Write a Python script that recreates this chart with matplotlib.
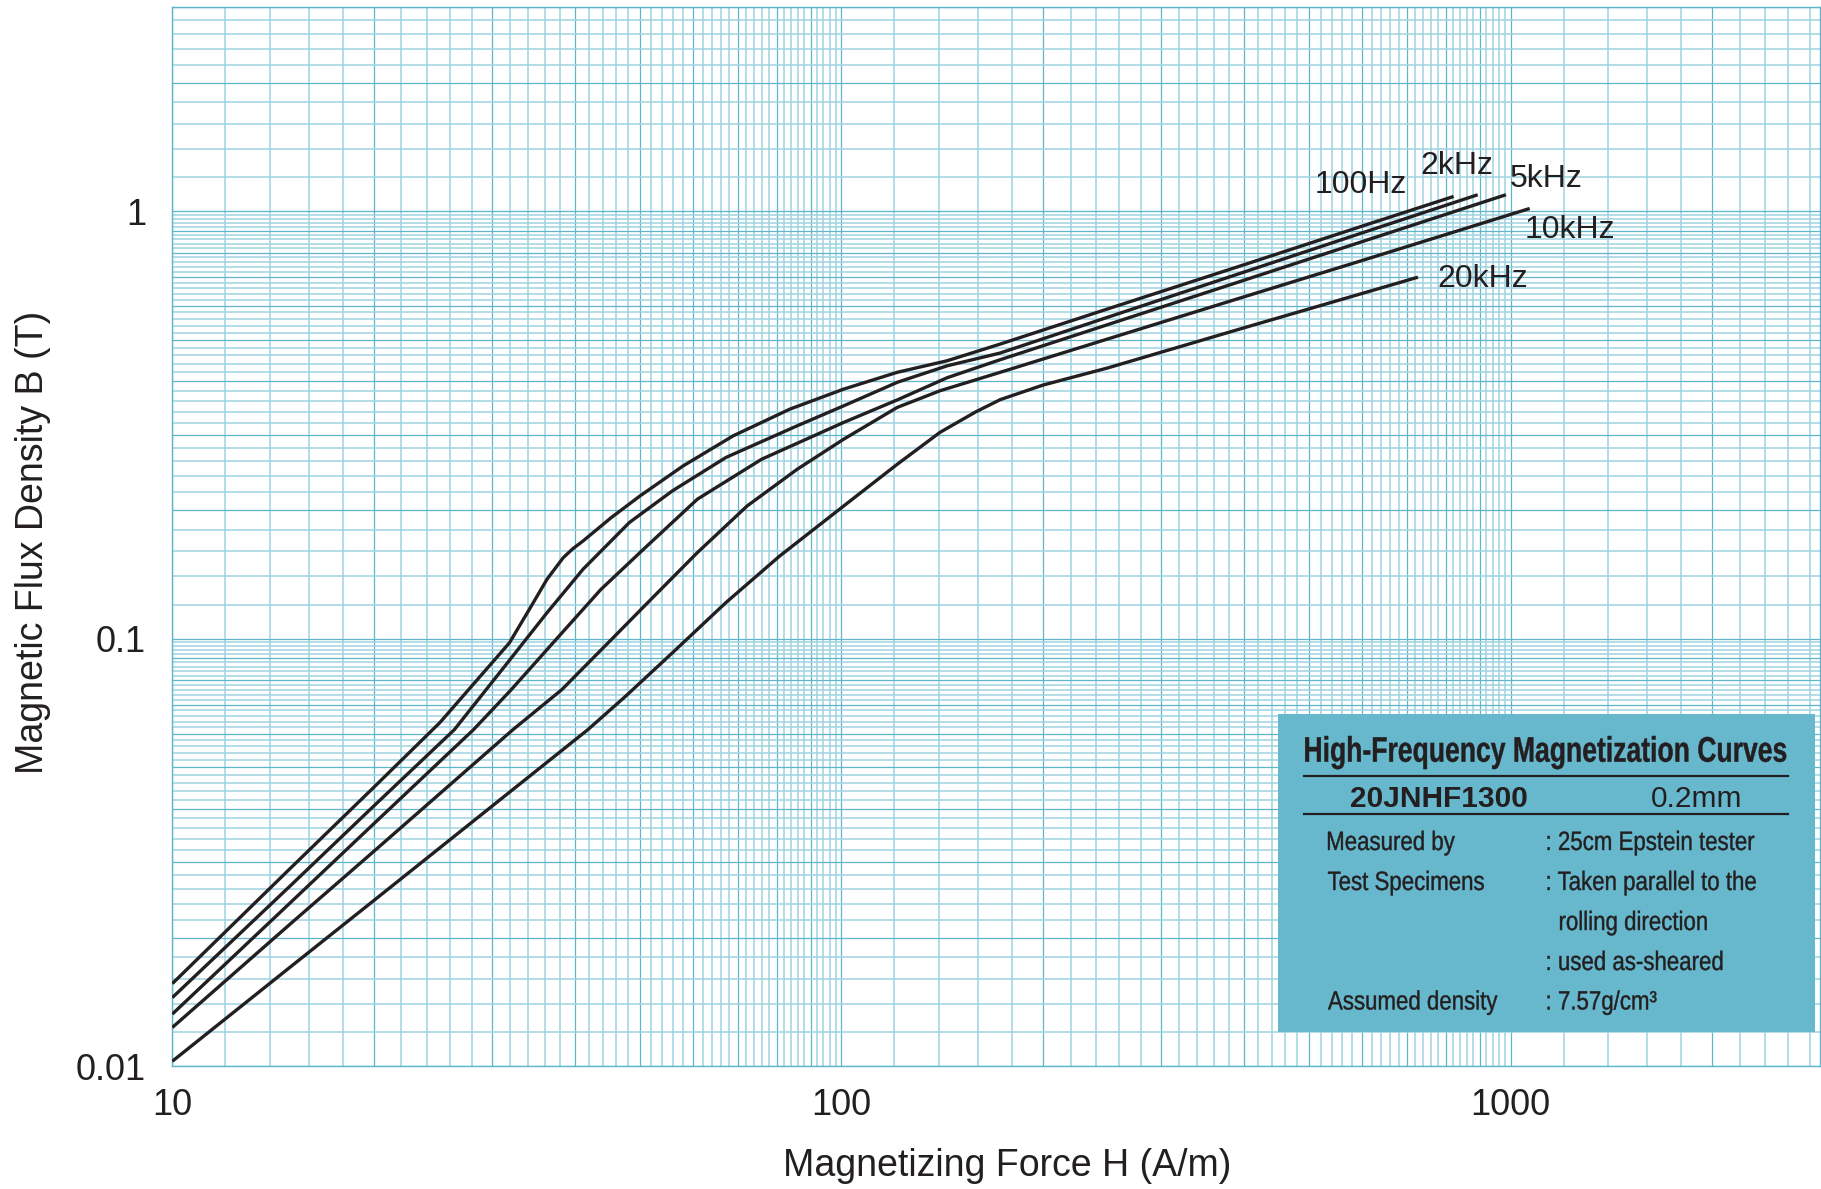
import numpy as np
import matplotlib
matplotlib.use('Agg')
from matplotlib import pyplot as plt
from matplotlib.textpath import TextPath
from matplotlib.patches import PathPatch
from matplotlib.transforms import Affine2D
from matplotlib.font_manager import FontProperties

plt.rcParams['font.family'] = ['Liberation Sans', 'DejaVu Sans']

W, H = 1821, 1189
ink = '#231f20'
grid_dark = '#5fb6cb'
grid_light = '#9fd3e1'
box_color = '#67b8cd'

# magnetizing force H (A/m) and flux density B (T)
h_100hz = [10, 15, 20, 25.1, 31.9, 34.4, 36.3, 38.4, 39.7, 41.1, 45.3, 50, 58, 68.9, 83.8,
           100.8, 121.2, 143.9, 172.7, 250, 400, 600, 822]
b_100hz = [0.0156, 0.029, 0.0449, 0.0636, 0.0978, 0.1193, 0.1377, 0.1548, 0.1625, 0.1693, 0.1921,
           0.2158, 0.2537, 0.2983, 0.3446, 0.3837, 0.42, 0.447, 0.489, 0.591, 0.75, 0.923, 1.083]

h_2k = [10, 15, 20, 26.4, 31.7, 36.3, 41.1, 48.2, 55.9, 67.2, 85.9, 100.8, 121.2, 143.9,
        172.7, 250, 400, 600, 893]
b_2k = [0.01447, 0.0264, 0.0406, 0.0613, 0.0879, 0.115, 0.1454, 0.187, 0.2218, 0.2655,
        0.3149, 0.3507, 0.398, 0.435, 0.466, 0.565, 0.721, 0.89, 1.093]

h_5k = [10, 15, 20, 28.2, 32.1, 38.6, 43.7, 50.6, 60.9, 76.0, 100.8, 121.2, 143.9, 172.7,
        250, 400, 600, 984]
b_5k = [0.01324, 0.0241, 0.0369, 0.0613, 0.076, 0.105, 0.1304, 0.1619, 0.212, 0.263,
        0.3207, 0.362, 0.408, 0.4495, 0.543, 0.69, 0.849, 1.093]

h_10k = [10, 15, 20, 32.3, 38.2, 44.8, 52.5, 60.9, 72.3, 85.9, 100.8, 121.2, 140.4, 172.7,
         250, 400, 600, 1068]
b_10k = [0.01232, 0.0215, 0.0318, 0.0613, 0.076, 0.0978, 0.1258, 0.159, 0.2045, 0.2492,
         0.293, 0.3477, 0.3803, 0.42, 0.5026, 0.631, 0.767, 1.015]

h_20k = [10, 15, 20, 30, 41.8, 47.6, 55.9, 67.2, 80.8, 100.8, 121.2, 140.4, 158.8, 172.7,
         200, 250, 400, 727]
b_20k = [0.01027, 0.01705, 0.0244, 0.0405, 0.0613, 0.0734, 0.0927, 0.1215, 0.156, 0.2045,
         0.256, 0.304, 0.3395, 0.3625, 0.392, 0.43, 0.534, 0.701]

curves = [(h_100hz, b_100hz), (h_2k, b_2k), (h_5k, b_5k), (h_10k, b_10k), (h_20k, b_20k)]
curve_labels = ['100Hz', '2kHz', '5kHz', '10kHz', '20kHz']
label_h = [598, 830, 1130, 1228, 908]
label_b = [1.154, 1.278, 1.19, 0.905, 0.695]

info_names = ['Measured by', 'Test Specimens', '', '', 'Assumed density']
info_values = [': 25cm Epstein tester', ': Taken parallel to the', 'rolling direction',
               ': used as-sheared', ': 7.57g/cm³']


def fx(px):
    return px / W


def fy(py):
    return 1 - py / H


def grid_values(lo, hi):
    vals = []
    dec = 10.0 ** np.floor(np.log10(lo))
    while dec <= hi:
        for k in range(45):
            v = dec * (1 + 0.2 * k)
            if lo <= v <= hi * 1.0001:
                vals.append((v, k % 5 == 0))
        dec *= 10
    return vals


def condensed_text(ax, x, y, s, size, sx, weight='normal', ha='left', width=None):
    # text drawn as a path squeezed horizontally (no condensed font installed)
    tp = TextPath((0, 0), s, size=size,
                  prop=FontProperties(family='Liberation Sans', weight=weight))
    ext = tp.get_extents()
    if width is not None:
        sx = width / ext.width
    x0 = x - ext.x0 * sx
    if ha == 'center':
        x0 = x - (ext.x0 + ext.width / 2) * sx
    path = Affine2D().scale(sx, -1).translate(x0, y).transform_path(tp)
    ax.add_patch(PathPatch(path, fc=ink, ec=ink, lw=0.3))


fig = plt.figure(figsize=(W / 100, H / 100), dpi=100)
left, right, top, bottom = 172.3, 1820, 7.3, 1066.2
ax = fig.add_axes([fx(left), fy(bottom), (right - left) / W, (bottom - top) / H])
ax.set_xscale('log')
ax.set_yscale('log')
ax.set_xlim(10, 2900)
ax.set_ylim(0.01, 3)

for v, strong in grid_values(10, 2900):
    ax.axvline(v, color=grid_dark if strong else grid_light, lw=0.9 if strong else 1.1, zorder=1)
for v, strong in grid_values(0.01, 3):
    ax.axhline(v, color=grid_dark if strong else grid_light, lw=0.9 if strong else 1.1, zorder=1)

for h_vals, b_vals in curves:
    ax.plot(h_vals, b_vals, color=ink, lw=2.4, solid_joinstyle='round',
            solid_capstyle='butt', zorder=3)

for name, lh, lb in zip(curve_labels, label_h, label_b):
    ax.text(lh, lb, name, fontsize=23, color=ink, ha='center', va='center', zorder=4)

for s in ax.spines.values():
    s.set_color(grid_dark)
    s.set_linewidth(1.0)

ax.set_xticks([10, 100, 1000])
ax.set_xticklabels(['10', '100', '1000'])
ax.set_yticks([0.01, 0.1, 1])
ax.set_yticklabels(['0.01', '0.1', '1'])
ax.xaxis.set_minor_locator(matplotlib.ticker.NullLocator())
ax.yaxis.set_minor_locator(matplotlib.ticker.NullLocator())
ax.tick_params(axis='both', length=0, labelsize=26, colors=ink)
ax.tick_params(axis='x', pad=16)
ax.tick_params(axis='y', pad=19)

fig.text(fx(1007), fy(1166), 'Magnetizing Force H (A/m)', fontsize=27, color=ink,
         ha='center', va='center')
fig.text(fx(33), fy(542), 'Magnetic Flux Density B (T)', fontsize=27, color=ink,
         ha='center', va='center', rotation=90)

# info box, in pixel units of the figure
bx0, bx1, by0, by1 = 1277.7, 1814.6, 714, 1031.7
box = fig.add_axes([fx(bx0), fy(by1), (bx1 - bx0) / W, (by1 - by0) / H])
box.set_facecolor(box_color)
box.set_xticks([])
box.set_yticks([])
for s in box.spines.values():
    s.set_visible(False)
box.set_xlim(bx0, bx1)
box.set_ylim(by1, by0)

condensed_text(box, 1545.7, 761.7, 'High-Frequency Magnetization Curves', 35.5, 0.76,
               weight='bold', ha='center', width=481)
box.plot([1304, 1787.6], [776, 776], color=ink, lw=1.6)
box.text(1438.6, 806.7, '20JNHF1300', fontweight='bold', fontsize=21.5, color=ink,
         ha='center', va='baseline')
box.text(1697, 806.7, '0.2mm', fontsize=21.5, color=ink, ha='center', va='baseline')
box.plot([1304, 1787.6], [814.3, 814.3], color=ink, lw=1.6)

row_y = [850, 890, 930, 970, 1009.5]
for name, value, ry in zip(info_names, info_values, row_y):
    if name:
        condensed_text(box, 1328, ry, name, 26.5, 0.84)
    vx = 1547.6 if value.startswith(':') else 1560
    condensed_text(box, vx, ry, value, 26.5, 0.84)

fig.savefig('out.png', dpi=100)
